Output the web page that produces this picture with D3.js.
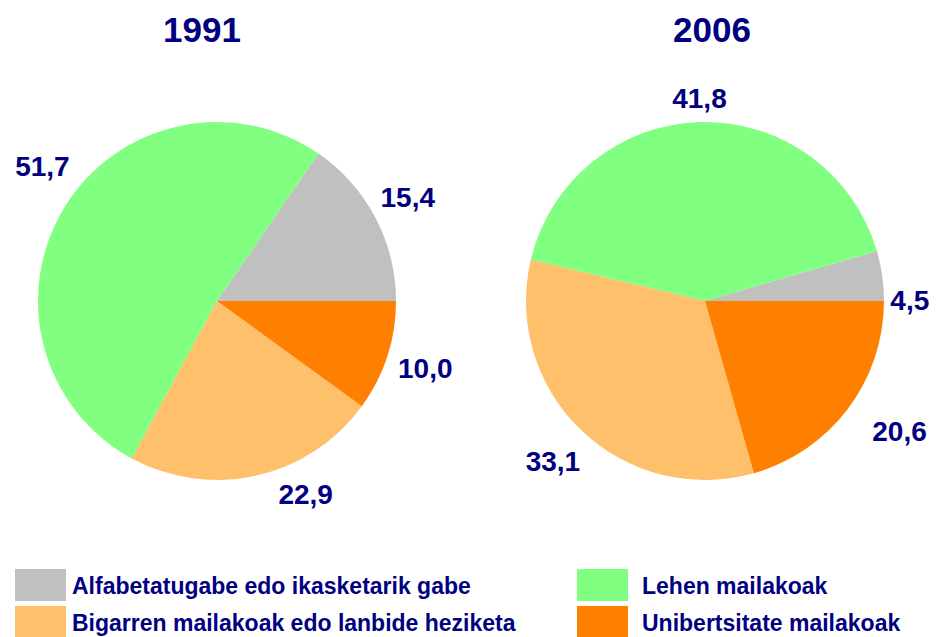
<!DOCTYPE html>
<html lang="eu">
<head>
  <meta charset="utf-8">
  <title>1991 - 2006</title>
  <script src="https://d3js.org/d3.v7.min.js"></script>
  <style>
    body { margin: 0; background: #fff; }
    text { font-family: "Liberation Sans", Arial, sans-serif; font-weight: bold; fill: #000080; }
  </style>
</head>
<body>
<div id="chart"></div>
<script>
// categories and values
const categories = [
  "Alfabetatugabe edo ikasketarik gabe",
  "Lehen mailakoak",
  "Bigarren mailakoak edo lanbide heziketa",
  "Unibertsitate mailakoak"
];
const years = ["1991", "2006"];
const values1991 = [15.4, 51.7, 22.9, 10.0];
const values2006 = [4.5, 41.8, 33.1, 20.6];
const colors = ["#c0c0c0", "#80ff80", "#ffc06c", "#ff8000"];

// legend order as in the picture (two columns)
const legendOrder = [0, 2, 1, 3];

const width = 938, height = 637;
const radius = 179;
const labelRadius = 220;
const centers = [[217, 301], [705, 301]];
// hand nudges for the value labels (pixels), same order as the slices
const labelNudge = [
  [[-4, -1], [13, -20], [40, -21], [-1, 0]],
  [[-13, 30], [0, 17], [0, 2], [19, -2]]
];

const svg = d3.select("#chart")
  .append("svg")
    .attr("width", width)
    .attr("height", height);

const color = d3.scaleOrdinal().domain(d3.range(categories.length)).range(colors);
const fmt = v => d3.format(".1f")(v).replace(".", ",");

// slices go counter-clockwise starting at 3 o'clock
const pie = d3.pie()
  .sort(null)
  .startAngle(Math.PI / 2)
  .endAngle(Math.PI / 2 - 2 * Math.PI);

const arc = d3.arc().innerRadius(0).outerRadius(radius);
const labelArc = d3.arc().innerRadius(labelRadius).outerRadius(labelRadius);

[values1991, values2006].forEach((vals, i) => {
  const g = svg.append("g")
    .attr("transform", `translate(${centers[i][0]},${centers[i][1]})`);

  const slices = pie(vals);

  g.selectAll("path")
    .data(slices)
    .join("path")
      .attr("d", arc)
      .attr("fill", (d, k) => color(k));

  g.selectAll("text.val")
    .data(slices)
    .join("text")
      .attr("class", "val")
      .attr("transform", (d, k) => {
        const c = labelArc.centroid(d);
        return `translate(${c[0] + labelNudge[i][k][0]},${c[1] + labelNudge[i][k][1]})`;
      })
      .attr("text-anchor", "middle")
      .attr("dominant-baseline", "central")
      .style("font-size", "28px")
      .text(d => fmt(d.data));

  // year title
  svg.append("text")
    .attr("x", centers[i][0] - 15 + i * 22)
    .attr("y", 42)
    .attr("text-anchor", "middle")
    .style("font-size", "35px")
    .text(years[i]);
});

// legend
const legendX = [15, 577];
const legendY = [569, 606];
const legend = svg.append("g");
legendOrder.forEach((k, n) => {
  const col = Math.floor(n / 2), row = n % 2;
  legend.append("rect")
    .attr("x", legendX[col])
    .attr("y", legendY[row])
    .attr("width", 51)
    .attr("height", 32)
    .attr("fill", color(k));
  legend.append("text")
    .attr("x", legendX[col] + 57 + col * 8)
    .attr("y", legendY[row] + 25)
    .style("font-size", "23px")
    .text(categories[k]);
});
</script>
</body>
</html>
